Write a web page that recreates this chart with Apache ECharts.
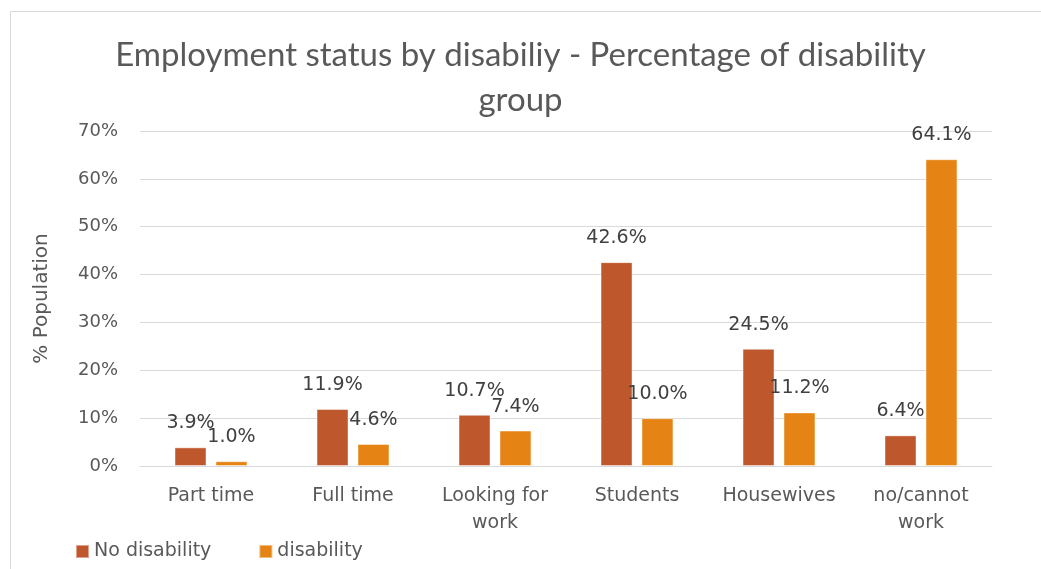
<!DOCTYPE html>
<html>
<head>
<meta charset="utf-8">
<script src="https://cdn.jsdelivr.net/npm/echarts@6/dist/echarts.min.js"></script>
<style>
  html, body { margin: 0; padding: 0; background: #ffffff; }
  #chart { width: 1041px; height: 569px; }
</style>
</head>
<body>
<div id="chart"></div>
<script>
// Employment status categories
const categories = ['Part time', 'Full time', 'Looking for\nwork', 'Students', 'Housewives', 'no/cannot\nwork'];
// Percent of each group
const noDisability = [3.9, 11.9, 10.7, 42.6, 24.5, 6.4];
const disability = [1.0, 4.6, 7.4, 10.0, 11.2, 64.1];
const yTicks = [0, 10, 20, 30, 40, 50, 60, 70];

const TITLE_FONT = 'Lato, "Open Sans", sans-serif';
const FONT = '"DejaVu Sans", sans-serif';
const chart = echarts.init(document.getElementById('chart'));

const labelStyle = {
  show: true,
  position: 'top',
  distance: 14,
  color: '#404040',
  fontSize: 19,
  lineHeight: 20,
  fontFamily: FONT,
  formatter: p => p.value.toFixed(1) + '%'
};

chart.setOption({
  animation: false,
  graphic: [{
    type: 'rect',
    shape: { x: 10.5, y: 11.5, width: 1060, height: 600 },
    style: { fill: 'none', stroke: '#d9d9d9', lineWidth: 1 }
  }],
  title: {
    text: 'Employment status by disabiliy - Percentage of disability\ngroup',
    left: 'center',
    top: 28,
    textStyle: { color: '#595959', fontSize: 33, fontWeight: 'normal', fontFamily: TITLE_FONT, lineHeight: 45 }
  },
  legend: {
    left: 70,
    top: 537,
    itemWidth: 13,
    itemHeight: 13,
    itemGap: 47,
    icon: 'rect',
    textStyle: { color: '#595959', fontSize: 19, fontFamily: FONT },
    data: ['No disability', 'disability']
  },
  grid: { left: 140, right: 49, top: 131, bottom: 103 },
  xAxis: {
    type: 'category',
    data: categories,
    axisLine: { lineStyle: { color: '#d9d9d9', width: 1 } },
    axisTick: { show: false },
    axisLabel: { interval: 0, color: '#595959', fontSize: 19, fontFamily: FONT, margin: 17, lineHeight: 27 }
  },
  yAxis: {
    type: 'value',
    min: yTicks[0],
    max: yTicks[yTicks.length - 1],
    interval: 10,
    name: '% Population',
    nameLocation: 'middle',
    nameGap: 88,
    nameTextStyle: { color: '#595959', fontSize: 20, fontFamily: FONT },
    axisLine: { show: false },
    axisTick: { show: false },
    splitLine: { lineStyle: { color: '#d9d9d9', width: 1 } },
    axisLabel: { color: '#595959', fontSize: 18, fontFamily: FONT, margin: 22, formatter: v => v + '%' }
  },
  series: [
    {
      name: 'No disability',
      type: 'bar',
      data: noDisability,
      barWidth: 32,
      barGap: '28%',
      itemStyle: { color: '#bf572c', borderColor: 'rgba(255,255,255,0.45)', borderWidth: 1 },
      label: labelStyle
    },
    {
      name: 'disability',
      type: 'bar',
      data: disability,
      barWidth: 32,
      itemStyle: { color: '#e58414', borderColor: 'rgba(255,255,255,0.45)', borderWidth: 1 },
      label: labelStyle
    }
  ]
});
</script>
</body>
</html>
